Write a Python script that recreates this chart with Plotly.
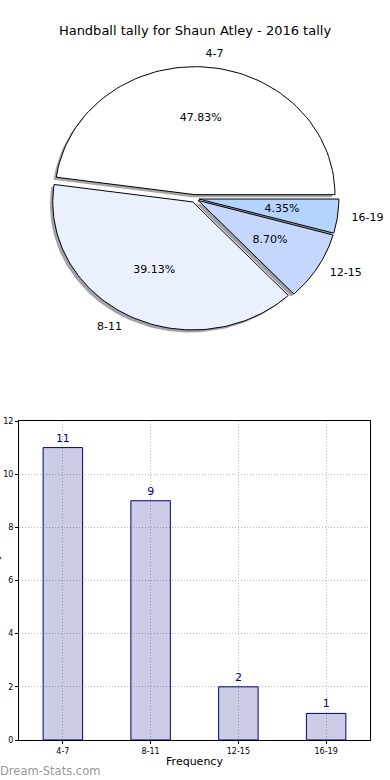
import numpy as np
import plotly.graph_objects as go

# ---------------- data ----------------
categories = ["4-7", "8-11", "12-15", "16-19"]
tally = [11, 9, 2, 1]
slice_colors = ["#ffffff", "#eaf0fe", "#c5d7fe", "#b4d4ff"]
y_ticks = [0, 2, 4, 6, 8, 10, 12]
title_text = "Handball tally for Shaun Atley - 2016 tally"
x_title = "Frequency"
y_title = "Total Tally"
watermark = "Dream-Stats.com"

# ---------------- geometry / style ----------------
W, H = 390, 780
CX, CY, RX, RY = 194.7, 198.5, 140.0, 128.0   # pie centre / radii in px
EXPLODE = 0.03
SHADOW_OFF = 0.02
PIE_TOP, PIE_BOTTOM = 0, 400
FONT = "DejaVu Sans"


def hex_rgb(h):
    h = h.lstrip("#")
    return tuple(int(h[i:i + 2], 16) for i in (0, 2, 4))


fig = go.Figure()

vals = np.array(tally, dtype=float)
frac = vals / vals.sum()
bounds = np.concatenate([[0.0], np.cumsum(frac)]) * 360.0

wedges = []
for i, cat in enumerate(categories):
    t = np.radians(np.linspace(bounds[i], bounds[i + 1], 80))
    m = np.radians((bounds[i] + bounds[i + 1]) / 2)
    ox, oy = EXPLODE * np.cos(m), EXPLODE * np.sin(m)
    xs = np.concatenate([[ox], ox + np.cos(t), [ox]])
    ys = np.concatenate([[oy], oy + np.sin(t), [oy]])
    wedges.append((cat, xs, ys, m, ox, oy, slice_colors[i], frac[i]))

# shadows first (beneath all wedges)
for cat, xs, ys, m, ox, oy, col, f in wedges:
    r, g, b = hex_rgb(col)
    sc = f"rgba({int(r*0.3)},{int(g*0.3)},{int(b*0.3)},0.5)"
    fig.add_trace(go.Scatter(x=xs - SHADOW_OFF, y=ys - SHADOW_OFF, mode="lines",
                             fill="toself", fillcolor=sc, line=dict(width=0),
                             xaxis="x2", yaxis="y2", hoverinfo="skip", showlegend=False))

for cat, xs, ys, m, ox, oy, col, f in wedges:
    fig.add_trace(go.Scatter(x=xs, y=ys, mode="lines", fill="toself", fillcolor=col,
                             line=dict(color="black", width=1),
                             xaxis="x2", yaxis="y2", hoverinfo="skip", showlegend=False))

for cat, xs, ys, m, ox, oy, col, f in wedges:
    lx, ly = ox + 1.1 * np.cos(m), oy + 1.1 * np.sin(m)
    pos = "middle right" if np.cos(m) > 0 else "middle left"
    fig.add_trace(go.Scatter(x=[lx], y=[ly], mode="text", text=[cat], textposition=pos,
                             textfont=dict(family=FONT, size=11, color="black"),
                             cliponaxis=False,
                             xaxis="x2", yaxis="y2", hoverinfo="skip", showlegend=False))
    px, py = ox + 0.6 * np.cos(m), oy + 0.6 * np.sin(m)
    fig.add_trace(go.Scatter(x=[px], y=[py], mode="text", text=[f"{f*100:.2f}%"],
                             textposition="middle center",
                             textfont=dict(family=FONT, size=11, color="black"),
                             xaxis="x2", yaxis="y2", hoverinfo="skip", showlegend=False))

# ---------------- bar chart ----------------
fig.add_trace(go.Bar(x=categories, y=tally, width=0.45,
                     marker=dict(color="rgba(0,0,128,0.2)", line=dict(color="#000080", width=1)),
                     text=[str(v) for v in tally], textposition="outside",
                     textfont=dict(family=FONT, size=11, color="#000080"),
                     cliponaxis=False, hoverinfo="skip", showlegend=False))

bar_left, bar_right, bar_top, bar_bottom = 19, 370, 421, 740
GRID = dict(showgrid=True, gridcolor="#b8b8b8", griddash="1px,2px", gridwidth=1)

fig.update_layout(
    width=W, height=H,
    margin=dict(l=0, r=0, t=0, b=0, autoexpand=False),
    paper_bgcolor="white", plot_bgcolor="rgba(0,0,0,0)",
    font=dict(family=FONT, color="black"),
    title=dict(text=title_text, x=0.5, xanchor="center",
               y=1 - 30 / H, yanchor="middle", automargin=False,
               yref="container", font=dict(family=FONT, size=13, color="black")),
    xaxis=dict(domain=[bar_left / W, bar_right / W], type="category", range=[-0.5, 3.5],
               showline=True, mirror=True, linecolor="black", linewidth=1,
               ticks="outside", ticklen=3, tickcolor="black", automargin=False,
               tickfont=dict(family=FONT, size=8, color="black"),
               title=dict(text=x_title, font=dict(family=FONT, size=11, color="black"), standoff=2),
               zeroline=False, fixedrange=True, **GRID),
    yaxis=dict(domain=[1 - bar_bottom / H, 1 - bar_top / H], range=[0, 12],
               tickvals=y_ticks, showline=True, mirror=True, linecolor="black", linewidth=1,
               ticks="outside", ticklen=3, tickcolor="black", automargin=False,
               tickfont=dict(family=FONT, size=8, color="black"),
               zeroline=False, fixedrange=True, **GRID),
    xaxis2=dict(domain=[0, 1], range=[(0 - CX) / RX, (W - CX) / RX], visible=False,
                fixedrange=True, anchor="y2", automargin=False),
    yaxis2=dict(domain=[1 - PIE_BOTTOM / H, 1 - PIE_TOP / H],
                range=[(CY - PIE_BOTTOM) / RY, (CY - PIE_TOP) / RY], visible=False,
                fixedrange=True, anchor="x2", automargin=False),
    annotations=[
        dict(text=y_title, textangle=-90, x=0, xref="paper", xanchor="right", xshift=4,
             y=1 - (bar_top + bar_bottom) / 2 / H, yref="paper", yanchor="middle",
             showarrow=False, font=dict(family=FONT, size=11, color="black")),
        dict(text=watermark, x=0, xref="paper", xanchor="left", xshift=-2,
             y=1 - 771 / H, yref="paper",
             yanchor="middle", showarrow=False, font=dict(family=FONT, size=11.5, color="#999999")),
    ],
)

# remove the browser's default page margin so the figure sits at the window origin
fig.write_html("out.html", config={"displayModeBar": False},
               post_script="document.body.style.margin='0px';")
